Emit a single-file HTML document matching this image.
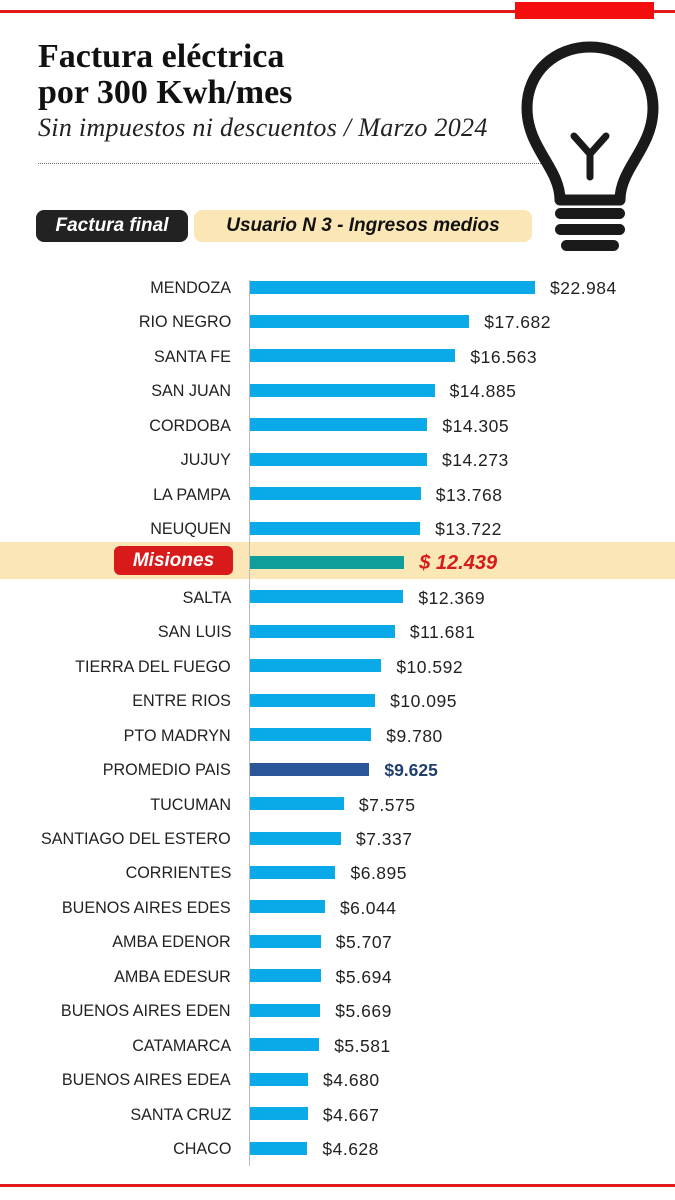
<!DOCTYPE html>
<html><head><meta charset="utf-8"><style>
*{margin:0;padding:0;box-sizing:border-box}
body{width:675px;height:1200px;background:#fff;position:relative;overflow:hidden;font-family:"Liberation Sans",sans-serif}
.abs{position:absolute}
.t1{left:38px;font-family:"Liberation Serif",serif;font-weight:bold;font-size:34px;color:#111;letter-spacing:0px}
.lab{position:absolute;right:444px;font-size:17px;color:#222;text-align:right;white-space:nowrap;transform:scaleX(0.95);transform-origin:right center}
.bar{position:absolute;left:250px;height:13px;background:#0aa9e8}
.val{position:absolute;font-size:17.5px;color:#222;white-space:nowrap;letter-spacing:0.5px}
</style></head><body>
<div class="abs" style="left:0;top:10px;width:675px;height:3px;background:#e0191b"></div>
<div class="abs" style="left:515px;top:2px;width:139px;height:17px;background:#f30d0d"></div>
<div class="abs t1" style="top:38px">Factura eléctrica</div>
<div class="abs t1" style="top:74px">por 300 Kwh/mes</div>
<div class="abs" style="left:38px;top:113px;font-family:'Liberation Serif',serif;font-style:italic;font-size:26px;color:#222;letter-spacing:0.3px">Sin impuestos ni descuentos / Marzo 2024</div>
<div class="abs" style="left:38px;top:163px;width:507px;border-top:1px dotted #666"></div>
<svg class="abs" style="left:515px;top:40px" width="150" height="215" viewBox="0 0 150 215">
<path d="M45 160 C45 128 12 108 12 68 C12 32 40 7 75 7 C110 7 138 32 138 68 C138 108 105 128 105 160 Z" fill="none" stroke="#1a1a1a" stroke-width="11" stroke-linejoin="round"/>
<path d="M59 96 L75 114 L91 96 M75 114 L75 137" fill="none" stroke="#1a1a1a" stroke-width="7" stroke-linecap="round"/>
<rect x="40" y="168" width="70" height="11" rx="5.5" fill="#1a1a1a"/>
<rect x="40" y="184" width="70" height="11" rx="5.5" fill="#1a1a1a"/>
<rect x="46" y="200" width="58" height="11" rx="5.5" fill="#1a1a1a"/>
</svg>
<div class="abs" style="left:36px;top:210px;width:152px;height:32px;background:#222;border-radius:8px;color:#fff;font-weight:bold;font-style:italic;font-size:19px;line-height:32px;text-align:center">Factura final</div>
<div class="abs" style="left:194px;top:210px;width:338px;height:32px;background:#fbe7b5;border-radius:8px;color:#111;font-weight:bold;font-style:italic;font-size:19px;line-height:32px;text-align:center">Usuario N 3 - Ingresos medios</div>
<div class="abs" style="left:0;top:542px;width:675px;height:37px;background:#fbe7b5"></div>
<div class="abs" style="left:249px;top:280px;width:1px;height:886px;background:#bbb"></div>
<div class="abs" style="left:114px;top:546px;width:119px;height:29px;background:#d91a1a;border-radius:6px;color:#fff;font-weight:bold;font-style:italic;font-size:19px;line-height:29px;text-align:center">Misiones</div>
<div class="abs" style="left:0;top:281px;width:675px;height:889px;overflow:hidden" id="c"></div>
<div class="abs" style="left:0;top:1184px;width:675px;height:3px;background:#e0191b"></div>
<script>
var d=[["MENDOZA",22984],["RIO NEGRO",17682],["SANTA FE",16563],["SAN JUAN",14885],["CORDOBA",14305],["JUJUY",14273],["LA PAMPA",13768],["NEUQUEN",13722],["",12439,"m"],["SALTA",12369],["SAN LUIS",11681],["TIERRA DEL FUEGO",10592],["ENTRE RIOS",10095],["PTO MADRYN",9780],["PROMEDIO PAIS",9625,"p"],["TUCUMAN",7575],["SANTIAGO DEL ESTERO",7337],["CORRIENTES",6895],["BUENOS AIRES EDES",6044],["AMBA EDENOR",5707],["AMBA EDESUR",5694],["BUENOS AIRES EDEN",5669],["CATAMARCA",5581],["BUENOS AIRES EDEA",4680],["SANTA CRUZ",4667],["CHACO",4628]];
var c=document.getElementById('c'),h='';
d.forEach(function(r,i){var y=287+i*34.44-281;var w=r[1]*0.0124;
var col=r[2]=='m'?'#0f9e9a':r[2]=='p'?'#2a5699':'#0aa9e8';
if(r[0])h+='<div class="lab" style="top:'+(y-9)+'px">'+r[0]+'</div>';
h+='<div class="bar" style="top:'+(y-6.5)+'px;width:'+w+'px;background:'+col+'"></div>';
var s=r[1].toString().replace(/(\d)(\d{3})$/,'$1.$2');
var st=r[2]=='m'?'color:#d91a1a;font-weight:bold;font-style:italic;font-size:20px;letter-spacing:0;':r[2]=='p'?'color:#1f3f6e;font-weight:bold;letter-spacing:0;':'';
h+='<div class="val" style="top:'+(y-9-(r[2]=='m'?2:0))+'px;left:'+(250+w+15)+'px;'+st+'">'+(r[2]=='m'?'$ ':'$')+s+'</div>';});
c.innerHTML=h;
</script>
</body></html>
